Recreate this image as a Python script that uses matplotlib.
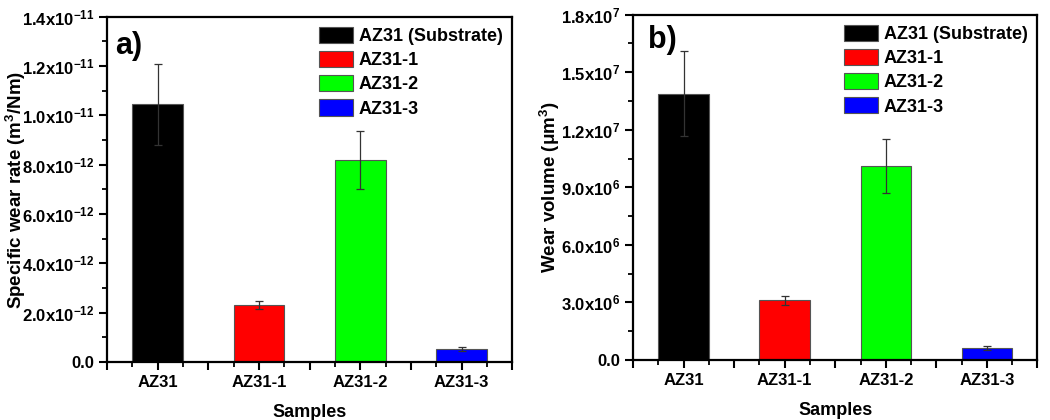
import numpy as np
import matplotlib.pyplot as plt
from matplotlib.ticker import FixedLocator, FuncFormatter

plt.rcParams['font.family'] = 'Liberation Sans'
plt.rcParams['font.weight'] = 'bold'
plt.rcParams['mathtext.fontset'] = 'custom'
plt.rcParams['mathtext.rm'] = 'Liberation Sans:bold'
plt.rcParams['mathtext.it'] = 'Liberation Sans:bold'
plt.rcParams['mathtext.bf'] = 'Liberation Sans:bold'
plt.rcParams['mathtext.default'] = 'rm'

samples = ['AZ31', 'AZ31-1', 'AZ31-2', 'AZ31-3']
legend_labels = ['AZ31 (Substrate)', 'AZ31-1', 'AZ31-2', 'AZ31-3']
colors = ['#000000', '#ff0000', '#00ff00', '#0000ff']

wear_rate = [10.46e-12, 2.33e-12, 8.18e-12, 0.51e-12]
wear_rate_err = [1.64e-12, 0.16e-12, 1.18e-12, 0.08e-12]

wear_volume = [13.87e6, 3.10e6, 10.11e6, 0.64e6]
wear_volume_err = [2.22e6, 0.21e6, 1.43e6, 0.10e6]


def sci_label(v, exp):
    return r'%.1fx10$^{%d}$' % (v / 10 ** exp, exp)


def fmt_rate(v, pos):
    if abs(v) < 1e-20:
        return '0.0'
    return sci_label(v, -11 if v >= 1e-11 - 1e-20 else -12)


def fmt_vol(v, pos):
    if abs(v) < 1:
        return '0.0'
    return sci_label(v, 7 if v >= 1e7 - 1 else 6)


def fmt_x(v, pos):
    i = int(round(v))
    if abs(v - i) < 1e-6 and 1 <= i <= len(samples):
        return samples[i - 1]
    return ''


def draw(ax, vals, errs, ymax, major, ylabel, formatter, tag, tag_xy, lab_x):
    x = list(range(1, len(samples) + 1))
    for i in range(len(samples)):
        ax.bar(x[i], vals[i], width=0.5, color=colors[i], edgecolor='#555555',
               linewidth=0.8, label=legend_labels[i], zorder=2)
        ax.errorbar(x[i], vals[i], yerr=errs[i], fmt='none', ecolor='#333333',
                    elinewidth=0.9, capsize=3, capthick=0.9, zorder=3)
    ax.set_xlim(0.5, 4.5)
    ax.set_ylim(0, ymax)
    ax.xaxis.set_major_locator(FixedLocator(np.arange(0.5, 4.51, 0.5)))
    ax.xaxis.set_minor_locator(FixedLocator(np.arange(0.75, 4.5, 0.5)))
    ax.xaxis.set_major_formatter(FuncFormatter(fmt_x))
    n = int(round(ymax / major))
    ax.yaxis.set_major_locator(FixedLocator([k * major for k in range(n + 1)]))
    ax.yaxis.set_minor_locator(FixedLocator([(k + 0.5) * major for k in range(n)]))
    ax.yaxis.set_major_formatter(FuncFormatter(formatter))
    ax.tick_params(which='major', direction='out', length=6, width=1.5,
                   labelsize=12)
    ax.tick_params(which='minor', direction='out', length=3.5, width=1.3)
    for s in ax.spines.values():
        s.set_linewidth(1.6)
    ax.set_xlabel('Samples', fontsize=13, fontweight='bold', labelpad=10)
    ax.set_ylabel(ylabel, fontsize=13.5, fontweight='bold')
    ax.yaxis.set_label_coords(lab_x, 0.5)
    ax.text(tag_xy[0], tag_xy[1], tag, transform=ax.transAxes, fontsize=22,
            fontweight='bold', va='top')
    ax.legend(loc='upper right', frameon=False, fontsize=13,
              handlelength=1.9, handleheight=1.0, handletextpad=0.3,
              labelspacing=0.33, borderaxespad=0.15)


fig = plt.figure(figsize=(10.5, 4.2), dpi=100)
ax1 = fig.add_axes([0.102, 0.138, 0.386, 0.822])
ax2 = fig.add_axes([0.603, 0.143, 0.385, 0.822])

draw(ax1, wear_rate, wear_rate_err, 1.4e-11, 2e-12,
     r'Specific wear rate (m$^3$/Nm)', fmt_rate, 'a)', (0.02, 0.96), -0.195)
draw(ax2, wear_volume, wear_volume_err, 1.8e7, 3e6,
     r'Wear volume ($\mu$m$^3$)', fmt_vol, 'b)', (0.037, 0.97), -0.175)

fig.savefig('out.png', dpi=100)
